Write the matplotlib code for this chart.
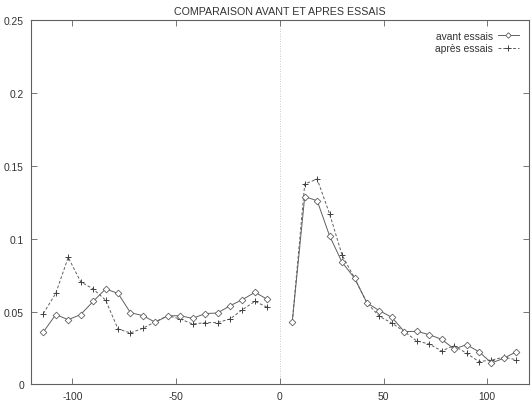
import matplotlib
matplotlib.use("Agg")
import matplotlib.pyplot as plt

# positions (degrees) of the measurement points, left and right of zero
x_left = [-114, -108, -102, -96, -90, -84, -78, -72, -66, -60,
          -54, -48, -42, -36, -30, -24, -18, -12, -6]
x_right = [6, 12, 18, 24, 30, 36, 42, 48, 54, 60,
           66, 72, 78, 84, 90, 96, 102, 108, 114]

avant_left = [0.036, 0.048, 0.0445, 0.048, 0.057, 0.0656, 0.0626, 0.0493, 0.0473, 0.0427,
              0.0472, 0.0472, 0.0454, 0.0487, 0.0491, 0.0541, 0.0583, 0.0633, 0.0585]
apres_left = [0.0487, 0.0626, 0.0873, 0.0706, 0.0656, 0.058, 0.0381, 0.0354, 0.0386, 0.0431,
              0.0472, 0.045, 0.0415, 0.0425, 0.0425, 0.045, 0.0514, 0.0571, 0.053]

avant_right = [0.0431, 0.129, 0.1262, 0.102, 0.0839, 0.0731, 0.056, 0.0507, 0.0461, 0.0363,
               0.0365, 0.0342, 0.031, 0.0244, 0.0273, 0.0225, 0.0148, 0.018, 0.0225]
apres_right = [0.0431, 0.1377, 0.1411, 0.1171, 0.0889, 0.0731, 0.056, 0.0468, 0.0422, 0.0363,
               0.0299, 0.0278, 0.023, 0.0267, 0.0214, 0.0157, 0.0168, 0.0187, 0.017]

x_ticks = [-100, -50, 0, 50, 100]
y_ticks = [0, 0.05, 0.1, 0.15, 0.2, 0.25]
y_labels = ['0', '0.05', '0.1', '0.15', '0.2', '0.25']

plt.rcParams['font.family'] = ['Liberation Sans', 'DejaVu Sans']
plt.rcParams['font.size'] = 7.4
plt.rcParams['axes.unicode_minus'] = False

fig = plt.figure(figsize=(5.32, 4.10), dpi=100)
ax = fig.add_axes([0.058, 0.0598, 0.936, 0.8878])

line_col = '#606060'
ax.axvline(0, color='#b8b8b8', lw=0.6, ls=(0, (1, 2)), zorder=1)

avant_style = dict(color=line_col, lw=0.7, marker='D', markersize=3.4,
                   markerfacecolor='white', markeredgecolor=line_col, markeredgewidth=0.6)
apres_style = dict(color=line_col, lw=0.7, ls=(0, (3, 2)), marker='+', markersize=5,
                   markeredgecolor='#404040', markeredgewidth=0.7)

ax.plot(x_left, apres_left, **apres_style)
ax.plot(x_right, apres_right, label='après essais', **apres_style)
ax.plot(x_left, avant_left, **avant_style)
ax.plot(x_right, avant_right, label='avant essais', **avant_style)

ax.set_xlim(-120, 120)
ax.set_ylim(0, 0.25)
ax.set_xticks(x_ticks)
ax.set_yticks(y_ticks)
ax.set_yticklabels(y_labels)
ax.tick_params(direction='in', top=True, right=True, length=4, width=0.6,
               colors='#606060', labelcolor='#333333', pad=5)
for s in ax.spines.values():
    s.set_color('#606060')
    s.set_linewidth(0.8)

ax.set_title('COMPARAISON AVANT ET APRES ESSAIS', fontsize=7.7, color='#333333', pad=5)

h, l = ax.get_legend_handles_labels()
leg = ax.legend(h[::-1], l[::-1], loc='upper right', frameon=False, markerfirst=False,
                handlelength=2.0, handletextpad=0.5, labelspacing=0.25,
                borderaxespad=0.6, fontsize=7.4)
for t in leg.get_texts():
    t.set_color('#333333')
for lh in leg.legend_handles:
    lh.set_markersize(2.8 if lh.get_marker() == 'D' else 4)

fig.savefig('out.png', dpi=100)
